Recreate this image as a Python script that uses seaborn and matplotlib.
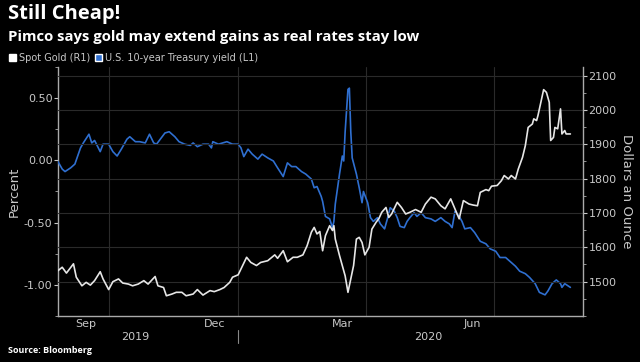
import pandas as pd
import matplotlib
matplotlib.use("Agg")
import matplotlib.pyplot as plt
import matplotlib.dates as mdates
from matplotlib.patches import Patch
import seaborn as sns

# ---- data ----
yield_dates = [
    "2019-08-26", "2019-08-29", "2019-08-31", "2019-09-04", "2019-09-07", "2019-09-11",
    "2019-09-13", "2019-09-17", "2019-09-19", "2019-09-21", "2019-09-25", "2019-09-27",
    "2019-10-01", "2019-10-04", "2019-10-07", "2019-10-10", "2019-10-14", "2019-10-16",
    "2019-10-20", "2019-10-23", "2019-10-27", "2019-10-30", "2019-11-02", "2019-11-04",
    "2019-11-06", "2019-11-10", "2019-11-13", "2019-11-17", "2019-11-20", "2019-11-24",
    "2019-11-28", "2019-11-30", "2019-12-03", "2019-12-07", "2019-12-11", "2019-12-13",
    "2019-12-14", "2019-12-18", "2019-12-24", "2019-12-28", "2020-01-01", "2020-01-03",
    "2020-01-05", "2020-01-08", "2020-01-11", "2020-01-15", "2020-01-18", "2020-01-22",
    "2020-01-26", "2020-01-29", "2020-02-02", "2020-02-05", "2020-02-08", "2020-02-11",
    "2020-02-15", "2020-02-18", "2020-02-22", "2020-02-24", "2020-02-26", "2020-02-29",
    "2020-03-01", "2020-03-03", "2020-03-06", "2020-03-08", "2020-03-09", "2020-03-10",
    "2020-03-13", "2020-03-15", "2020-03-16", "2020-03-17", "2020-03-19", "2020-03-20",
    "2020-03-21", "2020-03-22", "2020-03-25", "2020-03-27", "2020-03-29", "2020-03-30",
    "2020-04-02", "2020-04-04", "2020-04-06", "2020-04-09", "2020-04-11", "2020-04-14",
    "2020-04-16", "2020-04-18", "2020-04-21", "2020-04-23", "2020-04-25", "2020-04-28",
    "2020-04-30", "2020-05-02", "2020-05-05", "2020-05-07", "2020-05-10", "2020-05-13",
    "2020-05-17", "2020-05-20", "2020-05-24", "2020-05-27", "2020-05-30", "2020-06-01",
    "2020-06-03", "2020-06-06", "2020-06-08", "2020-06-10", "2020-06-14", "2020-06-17",
    "2020-06-21", "2020-06-25", "2020-06-28", "2020-07-02", "2020-07-05", "2020-07-09",
    "2020-07-12", "2020-07-16", "2020-07-19", "2020-07-23", "2020-07-26", "2020-07-30",
    "2020-08-02", "2020-08-06", "2020-08-08", "2020-08-11", "2020-08-14", "2020-08-17",
    "2020-08-18", "2020-08-20", "2020-08-24",
]
yield_vals = [
    -0.01, -0.07, -0.09, -0.06, -0.03, 0.10,
    0.14, 0.21, 0.14, 0.16, 0.07, 0.13,
    0.13, 0.07, 0.035, 0.09, 0.17, 0.19,
    0.15, 0.15, 0.14, 0.21, 0.14, 0.13,
    0.16, 0.22, 0.23, 0.19, 0.15, 0.13,
    0.12, 0.14, 0.11, 0.13, 0.13, 0.10,
    0.15, 0.13, 0.15, 0.13, 0.13, 0.10,
    0.03, 0.09, 0.05, 0.01, 0.05, 0.02,
    -0.005, -0.06, -0.13, -0.02, -0.05, -0.05,
    -0.09, -0.11, -0.15, -0.22, -0.21, -0.29,
    -0.33, -0.45, -0.47, -0.54, -0.49, -0.35,
    -0.11, 0.035, -0.005, 0.23, 0.57, 0.58,
    0.23, 0.02, -0.11, -0.22, -0.34, -0.25,
    -0.34, -0.46, -0.49, -0.46, -0.51, -0.55,
    -0.47, -0.38, -0.41, -0.46, -0.53, -0.54,
    -0.49, -0.46, -0.42, -0.45, -0.42, -0.46,
    -0.47, -0.49, -0.46, -0.49, -0.51, -0.54,
    -0.41, -0.45, -0.49, -0.55, -0.54, -0.58,
    -0.65, -0.67, -0.71, -0.73, -0.78, -0.78,
    -0.81, -0.85, -0.89, -0.91, -0.94, -0.99,
    -1.06, -1.08, -1.05, -0.99, -0.96, -0.99,
    -1.02, -0.99, -1.02,
]

gold_dates = [
    "2019-08-26", "2019-08-29", "2019-09-01", "2019-09-06", "2019-09-08", "2019-09-12",
    "2019-09-15", "2019-09-18", "2019-09-21", "2019-09-25", "2019-09-27", "2019-10-01",
    "2019-10-04", "2019-10-08", "2019-10-11", "2019-10-15", "2019-10-18", "2019-10-22",
    "2019-10-26", "2019-10-29", "2019-11-03", "2019-11-05", "2019-11-09", "2019-11-11",
    "2019-11-15", "2019-11-18", "2019-11-22", "2019-11-25", "2019-11-30", "2019-12-03",
    "2019-12-07", "2019-12-12", "2019-12-15", "2019-12-19", "2019-12-22", "2019-12-26",
    "2019-12-28", "2020-01-01", "2020-01-03", "2020-01-07", "2020-01-10", "2020-01-14",
    "2020-01-17", "2020-01-22", "2020-01-27", "2020-01-29", "2020-02-02", "2020-02-05",
    "2020-02-09", "2020-02-12", "2020-02-16", "2020-02-19", "2020-02-22", "2020-02-24",
    "2020-02-26", "2020-02-28", "2020-03-01", "2020-03-03", "2020-03-06", "2020-03-08",
    "2020-03-09", "2020-03-10", "2020-03-13", "2020-03-15", "2020-03-17", "2020-03-19",
    "2020-03-21", "2020-03-23", "2020-03-25", "2020-03-27", "2020-03-29", "2020-03-31",
    "2020-04-03", "2020-04-05", "2020-04-08", "2020-04-10", "2020-04-12", "2020-04-15",
    "2020-04-17", "2020-04-19", "2020-04-23", "2020-04-26", "2020-04-29", "2020-05-02",
    "2020-05-06", "2020-05-10", "2020-05-13", "2020-05-17", "2020-05-20", "2020-05-24",
    "2020-05-27", "2020-05-31", "2020-06-03", "2020-06-06", "2020-06-09", "2020-06-13",
    "2020-06-16", "2020-06-19", "2020-06-21", "2020-06-25", "2020-06-27", "2020-06-29",
    "2020-07-03", "2020-07-06", "2020-07-08", "2020-07-11", "2020-07-13", "2020-07-16",
    "2020-07-18", "2020-07-21", "2020-07-23", "2020-07-25", "2020-07-28", "2020-07-29",
    "2020-07-31", "2020-08-01", "2020-08-03", "2020-08-05", "2020-08-07", "2020-08-09",
    "2020-08-10", "2020-08-12", "2020-08-13", "2020-08-15", "2020-08-17", "2020-08-18",
    "2020-08-20", "2020-08-21", "2020-08-24",
]
gold_vals = [
    1532, 1542, 1525, 1552, 1513, 1488,
    1498, 1490, 1503, 1529, 1508, 1477,
    1500, 1508, 1496, 1493, 1488, 1493,
    1503, 1493, 1515, 1488, 1483, 1459,
    1464, 1469, 1469, 1459, 1464, 1477,
    1461, 1474, 1471, 1477, 1483, 1498,
    1513, 1520, 1537, 1571, 1556, 1547,
    1556, 1561, 1578, 1568, 1590, 1558,
    1571, 1571, 1578, 1605, 1644, 1658,
    1639, 1646, 1590, 1634, 1663, 1649,
    1663, 1624, 1576, 1547, 1517, 1469,
    1508, 1547, 1624, 1629, 1614, 1578,
    1600, 1653, 1673, 1684, 1702, 1716,
    1687, 1697, 1731, 1716, 1697, 1702,
    1710, 1702, 1726, 1746, 1741, 1721,
    1712, 1741, 1712, 1683, 1736, 1726,
    1723, 1721, 1760, 1768, 1765, 1778,
    1780, 1794, 1809, 1799, 1809, 1799,
    1828, 1862, 1896, 1949, 1959, 1974,
    1969, 1984, 2022, 2059, 2051, 2022,
    1911, 1920, 1949, 1945, 2003, 1930,
    1940, 1930, 1930,
]

month_label_dates = ["2019-09-15", "2019-12-15", "2020-03-15", "2020-06-15"]
month_labels = ["Sep", "Dec", "Mar", "Jun"]
year_label_dates = ["2019-10-20", "2020-05-15"]
year_labels = ["2019", "2020"]
quarter_starts = ["2019-10-01", "2020-01-01", "2020-04-01", "2020-07-01"]

BLUE = "#2f6fd0"
GOLD = "#e6e6e6"
TXT = "#c8c8c8"
GRID = "#2a2a2a"

df_yield = pd.DataFrame({"date": pd.to_datetime(yield_dates), "val": yield_vals})
df_gold = pd.DataFrame({"date": pd.to_datetime(gold_dates), "val": gold_vals})

sns.set_style("dark")
plt.rcParams["font.family"] = ["Liberation Sans Narrow", "DejaVu Sans"]

fig = plt.figure(figsize=(6.4, 3.62), dpi=100, facecolor="black")
ax = fig.add_axes([0.0906, 0.127, 0.8204, 0.688])
ax.set_facecolor("black")
ax2 = ax.twinx()

# vertical grid at quarter boundaries, horizontal grid from right axis
for q in pd.to_datetime(quarter_starts):
    ax.axvline(q, color=GRID, lw=0.8, zorder=0)
ax2.grid(axis="y", color=GRID, lw=0.8)
ax2.set_axisbelow(True)

sns.lineplot(data=df_yield, x="date", y="val", ax=ax, color=BLUE, lw=1.2, zorder=3)
sns.lineplot(data=df_gold, x="date", y="val", ax=ax2, color=GOLD, lw=1.2, zorder=3)

ax.set_xlim(pd.Timestamp("2019-08-26"), pd.Timestamp("2020-09-02"))
ax.set_ylim(-1.25, 0.75)
ax2.set_ylim(1400, 2125)

ax.set_yticks([-1.0, -0.5, 0.0, 0.5])
ax.set_yticks([-1.25, -0.75, -0.25, 0.25, 0.75], minor=True)
ax.yaxis.set_major_formatter(matplotlib.ticker.FormatStrFormatter("%.2f"))
ax2.set_yticks([1500, 1600, 1700, 1800, 1900, 2000, 2100])
ax2.set_yticks([1400, 1450, 1550, 1650, 1750, 1850, 1950, 2050], minor=True)

ax.set_xticks(pd.to_datetime(month_label_dates))
ax.set_xticklabels(month_labels)
ax.xaxis.set_minor_locator(mdates.MonthLocator())

for a in (ax, ax2):
    for s in a.spines.values():
        s.set_visible(False)
ax.spines["left"].set_visible(True)
ax.spines["bottom"].set_visible(True)
ax2.spines["right"].set_visible(True)
for s in (ax.spines["left"], ax.spines["bottom"], ax2.spines["right"]):
    s.set_color("#aaaaaa")
    s.set_linewidth(1.0)

ax.tick_params(axis="y", which="major", colors=TXT, labelsize=8, length=3, width=0.8, pad=1)
ax.tick_params(axis="y", which="minor", colors="#aaaaaa", length=2, width=0.6)
ax.tick_params(axis="x", which="major", colors=TXT, labelsize=8, length=0, pad=2)
ax.tick_params(axis="x", which="minor", colors="#aaaaaa", length=2, width=0.6, direction="inout")
ax2.tick_params(axis="y", which="major", colors=TXT, labelsize=8, length=3, width=0.8, pad=1)
ax2.tick_params(axis="y", which="minor", colors="#aaaaaa", length=2, width=0.6)

ax.set_xlabel("")
ax.set_ylabel("Percent", color=TXT, fontsize=9.5, labelpad=2)
ax2.set_ylabel("Dollars an Ounce", color=TXT, fontsize=9.5, rotation=270, labelpad=12)

# year labels under the months
xt = ax.get_xaxis_transform()
for d, lab in zip(pd.to_datetime(year_label_dates), year_labels):
    ax.text(d, -0.085, lab, transform=xt, ha="center", va="center", color=TXT, fontsize=8)
jan1 = pd.Timestamp("2020-01-01")
ax.plot([jan1, jan1], [-0.055, -0.11], transform=xt, color="#888888", lw=0.8, clip_on=False)

# titles
fig.text(0.012, 0.962, "Still Cheap!", color="white", fontsize=14.5, fontweight="bold",
         family=["Open Sans", "DejaVu Sans"], va="center")
fig.text(0.012, 0.897, "Pimco says gold may extend gains as real rates stay low", color="white",
         fontsize=10.7, fontweight="bold", family=["Open Sans", "DejaVu Sans"], va="center")
fig.text(0.012, 0.033, "Source: Bloomberg", color="white", fontsize=6.5, fontweight="bold",
         family=["Open Sans", "DejaVu Sans"], va="center")

handles = [Patch(facecolor="white", label="Spot Gold (R1)"),
           Patch(facecolor=BLUE, label="U.S. 10-year Treasury yield (L1)")]
fig.legend(handles=handles, loc="center left", bbox_to_anchor=(0.008, 0.84), ncol=2,
           frameon=False, fontsize=7, labelcolor=TXT, handlelength=0.7, handleheight=0.7,
           handletextpad=0.3, columnspacing=0.5, borderaxespad=0)

fig.savefig("out.png", dpi=100, facecolor="black")
